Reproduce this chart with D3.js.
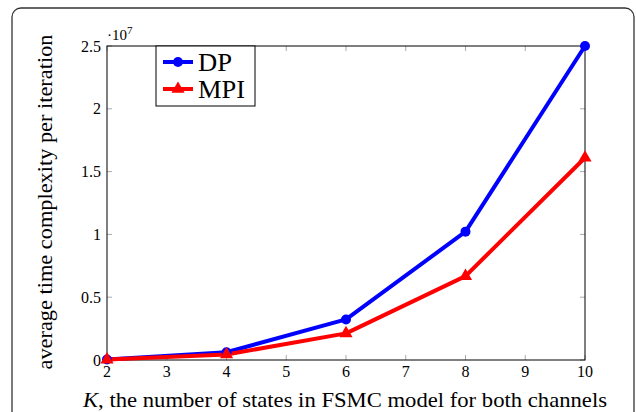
<!DOCTYPE html>
<html><head><meta charset="utf-8">
<script src="https://cdn.jsdelivr.net/npm/d3@7"></script>
<style>body{margin:0;background:#fff;} svg{display:block;} text{font-family:"Liberation Serif","Times New Roman",serif;}</style>
</head><body>
<svg id="c" width="636" height="412"></svg>
<script>
const kValues = [2, 4, 6, 8, 10];
const dpValues = [0.004, 0.062, 0.323, 1.022, 2.5];
const mpiValues = [0.003, 0.044, 0.212, 0.668, 1.61];
const xTicks = [2, 3, 4, 5, 6, 7, 8, 9, 10];
const yTicks = [0, 0.5, 1, 1.5, 2, 2.5];
const seriesNames = ["DP", "MPI"];

const svg = d3.select("#c");
// frame
svg.append("rect").attr("x", 12).attr("y", 8).attr("width", 622).attr("height", 420)
  .attr("rx", 9).attr("fill", "none").attr("stroke", "#333").attr("stroke-width", 1.3);

const L = 107, R = 585, T = 46, B = 360;
const x = d3.scaleLinear().domain([2, 10]).range([L, R]);
const y = d3.scaleLinear().domain([0, 2.5]).range([B, T]);

// ticks (gray, inward, mirrored)
const tg = svg.append("g").attr("stroke", "#aaa").attr("stroke-width", 1);
xTicks.forEach(t => {
  tg.append("line").attr("x1", x(t)).attr("x2", x(t)).attr("y1", B).attr("y2", B - 5);
  tg.append("line").attr("x1", x(t)).attr("x2", x(t)).attr("y1", T).attr("y2", T + 5);
});
yTicks.forEach(t => {
  tg.append("line").attr("y1", y(t)).attr("y2", y(t)).attr("x1", L).attr("x2", L + 5);
  tg.append("line").attr("y1", y(t)).attr("y2", y(t)).attr("x1", R).attr("x2", R - 5);
});
// axis box
svg.append("rect").attr("x", L).attr("y", T).attr("width", R - L).attr("height", B - T)
  .attr("fill", "none").attr("stroke", "#000").attr("stroke-width", 1);

// tick labels
xTicks.forEach(t => {
  svg.append("text").attr("x", x(t)).attr("y", 377).attr("text-anchor", "middle")
    .attr("font-size", 16).text(t);
});
yTicks.forEach(t => {
  svg.append("text").attr("x", 101).attr("y", y(t) + 5.5).attr("text-anchor", "end")
    .attr("font-size", 16).text(t);
});
// multiplier
const m = svg.append("text").attr("x", 107).attr("y", 40).attr("font-size", 15);
m.append("tspan").text("\u00b710");
m.append("tspan").attr("dy", -6).attr("font-size", 11).text("7");

// axis labels
const xl = svg.append("text").attr("x", 83).attr("y", 407)
  .attr("font-size", 22).attr("textLength", 524).attr("lengthAdjust", "spacingAndGlyphs");
xl.append("tspan").attr("font-style", "italic").text("K");
xl.append("tspan").text(", the number of states in FSMC model for both channels");
svg.append("text").attr("transform", "translate(52,202) rotate(-90)").attr("text-anchor", "middle")
  .attr("font-size", 21.5).attr("textLength", 335).attr("lengthAdjust", "spacingAndGlyphs")
  .text("average time complexity per iteration");

// lines
const line = d3.line().x((d, i) => x(kValues[i])).y(d => y(d));
svg.append("path").datum(dpValues).attr("d", line).attr("fill", "none")
  .attr("stroke", "#0000ff").attr("stroke-width", 4).attr("stroke-linejoin", "round");
svg.append("path").datum(mpiValues).attr("d", line).attr("fill", "none")
  .attr("stroke", "#ff0000").attr("stroke-width", 4).attr("stroke-linejoin", "round");
const tri = d3.symbol().type(d3.symbolTriangle).size(75);
dpValues.forEach((v, i) => {
  svg.append("circle").attr("cx", x(kValues[i])).attr("cy", y(v)).attr("r", 5).attr("fill", "#0000ff");
});
mpiValues.forEach((v, i) => {
  svg.append("path").attr("d", tri).attr("transform", `translate(${x(kValues[i])},${y(v)})`).attr("fill", "#ff0000");
});

// legend
svg.append("rect").attr("x", 156).attr("y", 46).attr("width", 99).attr("height", 60)
  .attr("fill", "#fff").attr("stroke", "#000").attr("stroke-width", 1);
const lg = [{c: "#0000ff", y: 62, n: seriesNames[0], w: 34}, {c: "#ff0000", y: 89, n: seriesNames[1], w: 47}];
lg.forEach((e, i) => {
  svg.append("line").attr("x1", 163).attr("x2", 193).attr("y1", e.y).attr("y2", e.y)
    .attr("stroke", e.c).attr("stroke-width", 4);
  if (i === 0) svg.append("circle").attr("cx", 178).attr("cy", e.y).attr("r", 5).attr("fill", e.c);
  else svg.append("path").attr("d", tri).attr("transform", `translate(178,${e.y})`).attr("fill", e.c);
  svg.append("text").attr("x", 198).attr("y", e.y + 8.5).attr("font-size", 25)
    .attr("textLength", e.w).attr("lengthAdjust", "spacingAndGlyphs").text(e.n);
});
</script>
</body></html>
